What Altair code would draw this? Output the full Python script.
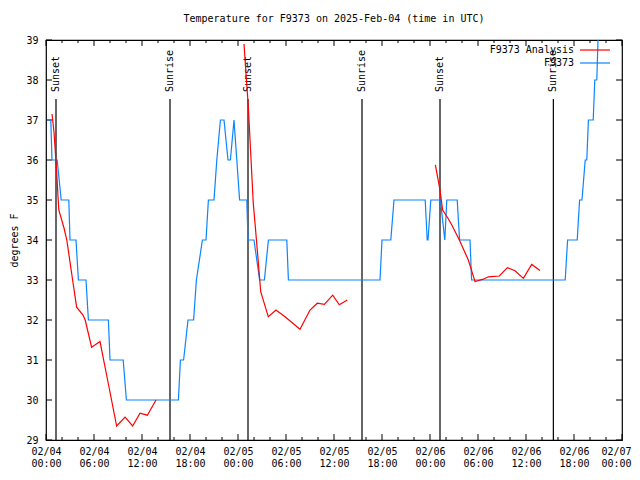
import altair as alt
import pandas as pd

# ---------------- data (hours since 2025-02-04 00:00 UTC) ----------------
blue_hours = [0.08, 0.6, 0.75, 1.4, 1.9, 2.85, 3.0, 3.75, 4.05, 5.0, 5.3, 7.8, 8.0, 9.65,
              10.05, 16.55, 16.8, 17.2, 17.75, 18.45, 18.8, 19.55, 20.0, 20.3, 21.0, 21.35,
              21.8, 22.25, 22.75, 23.05, 23.5, 23.85, 24.2, 25.1, 25.25, 26.0, 26.7, 27.3,
              27.8, 30.1, 30.3, 41.75, 42.0, 43.1, 43.5, 47.4, 47.65, 47.75, 48.1, 49.3,
              49.85, 50.1, 51.4, 51.7, 53.0, 53.2, 64.9, 65.2, 66.4, 66.7, 67.0, 67.4, 67.6,
              67.8, 68.4, 68.6, 68.85, 69.0]
blue_temps = [37, 37, 36, 36, 35, 35, 34, 34, 33, 33, 32, 32, 31, 31,
              30, 30, 31, 31, 32, 32, 33, 34, 34, 35, 35, 36,
              37, 37, 36, 36, 37, 36, 35, 35, 34, 34, 33, 33,
              34, 34, 33, 33, 34, 34, 35, 35, 34, 34, 35, 35,
              34, 35, 35, 34, 34, 33, 33, 34, 34, 35, 35, 36, 36,
              37, 37, 38, 38, 39]

red1_hours = [0.75, 1.0, 1.3, 1.6, 2.25, 2.6, 3.4, 3.83, 4.6, 4.9, 5.7, 6.75, 7.8, 8.83,
              9.88, 10.83, 11.75, 12.67, 13.75]
red1_temps = [37.15, 36.7, 35.8, 34.75, 34.3, 34.0, 32.9, 32.32, 32.13, 32.0, 31.32, 31.46,
              30.4, 29.35, 29.57, 29.35, 29.67, 29.62, 30.0]
red2_hours = [24.75, 25.29, 25.91, 26.34, 26.84, 27.79, 28.75, 29.88, 31.75, 33.0, 33.91,
              34.79, 35.84, 36.66, 37.66]
red2_temps = [38.9, 37.33, 34.92, 33.92, 32.71, 32.08, 32.25, 32.08, 31.77, 32.25, 32.42,
              32.39, 32.62, 32.38, 32.5]
red3_hours = [48.67, 49.25, 49.58, 50.17, 50.71, 51.67, 52.79, 53.63, 54.67, 55.3, 56.67,
              57.67, 58.63, 59.67, 60.71, 61.75]
red3_temps = [35.88, 35.25, 34.75, 34.57, 34.38, 34.0, 33.5, 32.96, 33.02, 33.08, 33.1,
              33.31, 33.23, 33.04, 33.39, 33.24]

sun_hours = [1.25, 15.5, 25.25, 39.5, 49.25, 63.42]
sun_labels = ["Sunset", "Sunrise", "Sunset", "Sunrise", "Sunset", "Sunrise"]

series_names = ["F9373 Analysis", "F9373"]
series_colors = ["#ff0000", "#0a84ff"]

major_tick_hours = [0, 6, 12, 18, 24, 30, 36, 42, 48, 54, 60, 66, 72]
minor_tick_hours = [2, 4, 8, 10, 14, 16, 20, 22, 26, 28, 32, 34, 38, 40, 44, 46, 50, 52,
                    56, 58, 62, 64, 68, 70]
y_ticks = [29, 30, 31, 32, 33, 34, 35, 36, 37, 38, 39]

TITLE = "Temperature for F9373 on 2025-Feb-04 (time in UTC)"
FONT = "DejaVu Sans Mono"

# ---------------- build tables ----------------
START_MS = pd.Timestamp("2025-02-04T00:00:00Z").value // 10**6


def to_ms(h):
    return START_MS + h * 3600000


blue_df = pd.DataFrame({"t": [to_ms(h) for h in blue_hours], "v": blue_temps})
red_rows = []
for seg, (hs, ts) in enumerate([(red1_hours, red1_temps), (red2_hours, red2_temps),
                                (red3_hours, red3_temps)]):
    for i, (h, v) in enumerate(zip(hs, ts)):
        red_rows.append({"t": to_ms(h), "v": v, "seg": seg, "o": i})
red_df = pd.DataFrame(red_rows)
sun_df = pd.DataFrame({"t": [to_ms(h) for h in sun_hours], "label": sun_labels})
major_df = pd.DataFrame({"t": [to_ms(h) for h in major_tick_hours]})
minor_df = pd.DataFrame({"t": [to_ms(h) for h in minor_tick_hours]})
yt_df = pd.DataFrame({"v": y_ticks})
leg_df = pd.DataFrame({"name": series_names, "color": series_colors, "row": [0, 1]})
title_df = pd.DataFrame({"title": [TITLE]})

W, H = 576, 400
LAST_MS = to_ms(major_tick_hours[-1])

x_scale = alt.Scale(type="utc", domain=[to_ms(0), LAST_MS])
y_scale = alt.Scale(domain=[29, 39], nice=False, zero=False)

x_axis = alt.Axis(
    values=[to_ms(h) for h in major_tick_hours],
    labelExpr="[utcFormat(datum.value, '%m/%d'), utcFormat(datum.value, '%H:%M')]",
    ticks=False, tickSize=0, domain=False, grid=False, labelPadding=6,
    labelLineHeight=12, labelFont=FONT, labelFontSize=10, labelColor="black",
    labelAngle=0, labelFlush=False, labelOverlap=False, labelBound=False, title=None,
    labelOffset={"condition": {"test": f"datum.value >= {LAST_MS}", "value": -6}, "value": 0},
)
y_axis = alt.Axis(
    values=y_ticks, ticks=False, tickSize=0, domain=False, grid=False, labelPadding=8,
    labelFont=FONT, labelFontSize=10, labelColor="black", title="degrees F",
    titleFont=FONT, titleFontSize=10, titleFontWeight="normal", titleColor="black",
    titleAngle=270, titleX=-32, titleY=200, titleAlign="center", titleBaseline="middle",
)

X = alt.X("t:Q", type="temporal", scale=x_scale, axis=x_axis)
Y = alt.Y("v:Q", scale=y_scale, axis=y_axis)

blue = alt.Chart(blue_df).mark_line(color=series_colors[1], strokeWidth=1.2, clip=True).encode(
    x=X, y=Y, order="t:Q")
red = alt.Chart(red_df).mark_line(color=series_colors[0], strokeWidth=1.2, clip=True).encode(
    x=X, y=Y, detail="seg:N", order="o:Q")

sun_rules = alt.Chart(sun_df).mark_rule(color="black", strokeWidth=1.2).encode(
    x=X, y=alt.value(59), y2=alt.value(H))
sun_text = alt.Chart(sun_df).mark_text(
    angle=270, align="left", baseline="middle", font=FONT, fontSize=10, color="black"
).encode(x=X, y=alt.value(52), text="label:N")

tick_bot_major = alt.Chart(major_df).mark_rule(color="black").encode(
    x=X, y=alt.value(H), y2=alt.value(H - 6))
tick_top_major = alt.Chart(major_df).mark_rule(color="black").encode(
    x=X, y=alt.value(0), y2=alt.value(6))
tick_bot_minor = alt.Chart(minor_df).mark_rule(color="black").encode(
    x=X, y=alt.value(H), y2=alt.value(H - 3))
tick_top_minor = alt.Chart(minor_df).mark_rule(color="black").encode(
    x=X, y=alt.value(0), y2=alt.value(3))
tick_left = alt.Chart(yt_df).mark_rule(color="black").encode(
    y=Y, x=alt.value(0), x2=alt.value(6))
tick_right = alt.Chart(yt_df).mark_rule(color="black").encode(
    y=Y, x=alt.value(W), x2=alt.value(W - 6))

leg_text0 = alt.Chart(leg_df[leg_df.row == 0]).mark_text(
    align="right", baseline="middle", font=FONT, fontSize=10, color="black"
).encode(x=alt.value(528), y=alt.value(10), text="name:N")
leg_text1 = alt.Chart(leg_df[leg_df.row == 1]).mark_text(
    align="right", baseline="middle", font=FONT, fontSize=10, color="black"
).encode(x=alt.value(528), y=alt.value(23), text="name:N")
leg_line0 = alt.Chart(leg_df[leg_df.row == 0]).mark_rule(color=series_colors[0], strokeWidth=1.2).encode(
    x=alt.value(534), x2=alt.value(564), y=alt.value(10))
leg_line1 = alt.Chart(leg_df[leg_df.row == 1]).mark_rule(color=series_colors[1], strokeWidth=1.2).encode(
    x=alt.value(534), x2=alt.value(564), y=alt.value(23))

title_text = alt.Chart(title_df).mark_text(
    align="center", baseline="middle", font=FONT, fontSize=10, color="black"
).encode(x=alt.value(288), y=alt.value(-21), text="title:N")

chart = alt.layer(
    tick_bot_major, tick_top_major, tick_bot_minor, tick_top_minor, tick_left, tick_right,
    sun_rules, sun_text, blue, red, leg_text0, leg_text1, leg_line0, leg_line1, title_text,
).properties(
    width=W, height=H,
    padding={"left": 38, "top": 32, "right": 10, "bottom": 28},
    autosize=alt.AutoSizeParams(type="none"),
    background="white",
).configure_view(stroke="black", strokeWidth=1.2)

chart.save("out.html", embed_options={"renderer": "svg", "actions": False})
